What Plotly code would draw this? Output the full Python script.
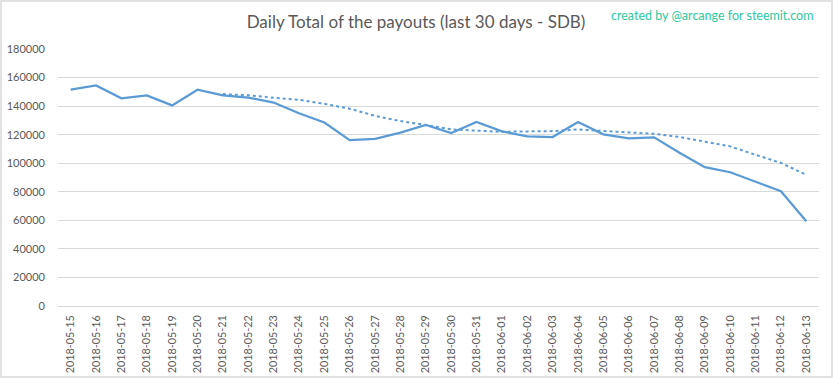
import plotly.graph_objects as go

dates = ["2018-05-15", "2018-05-16", "2018-05-17", "2018-05-18", "2018-05-19",
         "2018-05-20", "2018-05-21", "2018-05-22", "2018-05-23", "2018-05-24",
         "2018-05-25", "2018-05-26", "2018-05-27", "2018-05-28", "2018-05-29",
         "2018-05-30", "2018-05-31", "2018-06-01", "2018-06-02", "2018-06-03",
         "2018-06-04", "2018-06-05", "2018-06-06", "2018-06-07", "2018-06-08",
         "2018-06-09", "2018-06-10", "2018-06-11", "2018-06-12", "2018-06-13"]

payouts = [151500, 154500, 145500, 147500, 140500, 151500, 147500, 146000, 142500, 135000,
           128500, 116200, 117000, 121400, 126800, 121100, 128900, 122300, 118800, 118300,
           128900, 120200, 117400, 118100, 107300, 97200, 93700, 87200, 80400, 59300]

trend = [None, None, None, None, None, None, 148400, 147600, 145900, 144400,
         141600, 138200, 133200, 129500, 126800, 123700, 122800, 122000, 122300, 122500,
         123600, 122600, 122100, 120600, 118400, 115300, 111800, 105900, 100200, 91900]

y_ticks = [0, 20000, 40000, 60000, 80000, 100000, 120000, 140000, 160000, 180000]

title_text = "Daily Total of the payouts (last 30 days - SDB)"
credit_text = "created by @arcange for steemit.com"

line_color = "#5b9bd5"
text_color = "#595959"
font_family = "Lato, 'Open Sans', sans-serif"

fig = go.Figure()
fig.add_trace(go.Scatter(x=dates, y=payouts, mode="lines",
                         line=dict(color=line_color, width=2.25),
                         hoverinfo="x+y", showlegend=False))
fig.add_trace(go.Scatter(x=dates, y=trend, mode="lines",
                         line=dict(color=line_color, width=2, dash="dot"),
                         connectgaps=False, showlegend=False))

L, R, T, B = 58, 14, 49, 73
W, H = 833, 379
pw, ph = W - L - R, H - T - B

def px_x(px):
    return (px - L) / pw

def px_y(py):
    return (H - B - py) / ph

fig.update_layout(
    width=W, height=H,
    margin=dict(l=L, r=R, t=T, b=B, pad=0, autoexpand=False),
    paper_bgcolor="white", plot_bgcolor="white",
    font=dict(family=font_family, color=text_color, size=11),
    title=dict(text=title_text, x=px_x(416), xref="paper", xanchor="center",
               y=1 - 22 / H, yref="container", yanchor="middle",
               font=dict(size=17, color=text_color, family=font_family)),
    xaxis=dict(type="category", range=[-0.5, len(dates) - 0.5], autorange=False,
               tickangle=-90, showgrid=False, showline=False,
               ticks="", tickfont=dict(size=10.8, color=text_color),
               ticklabelstandoff=6, automargin=False),
    yaxis=dict(range=[0, 180000], tickvals=y_ticks, tickformat="d",
               showgrid=True, gridcolor="#d9d9d9", gridwidth=1,
               zeroline=True, zerolinecolor="#d9d9d9", zerolinewidth=1,
               showline=False, ticks="", tickfont=dict(size=11, color=text_color),
               ticklabelstandoff=12, automargin=False),
    annotations=[dict(text=credit_text, xref="paper", yref="paper",
                      x=px_x(815), y=px_y(15), xanchor="right", yanchor="middle",
                      showarrow=False,
                      font=dict(size=12.5, color="#2ec8a2", family=font_family))],
    shapes=[dict(type="rect", xref="paper", yref="paper",
                 x0=px_x(1), x1=px_x(832), y0=px_y(377), y1=px_y(1),
                 line=dict(color="#d9d9d9", width=1.5), layer="above")],
)

fig.write_html("out.html",
               config={"displayModeBar": False},
               post_script="document.body.style.margin='0';document.body.style.padding='0';")
